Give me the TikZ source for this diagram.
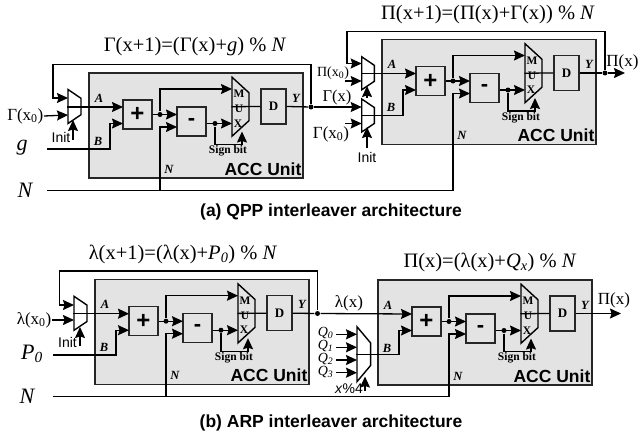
\documentclass[tikz,border=0pt]{standalone}
\usepackage{fontspec}
\setmainfont{Liberation Serif}
\setsansfont{Liberation Sans}
\usetikzlibrary{arrows.meta,shapes.geometric}
\newcommand{\fsz}[1]{\fontsize{#1}{#1}\selectfont}
\newcommand{\accunit}[3]{%
	\begin{scope}[shift={(#2,#3)}]
		\node[unitbox] (#1) at (196,125.5) {};
		\node[calcbox] (#1add) at (137.5,114.5) {\sffamily\bfseries\fsz{24}+};
		\node[calcbox] (#1sub) at (191.5,121.5) {\sffamily\bfseries\fsz{22}-};
		\node[muxbox,fill=gray!22,minimum width=59pt,minimum height=17pt,trapezium angle=60.8] (#1mux) at (240.5,106.7) {};
		\node[regbox] (#1reg) at (273.5,106.5) {\bfseries\fsz{13}D};
		\node[tiny] (#1m) at (239,94) {M};
		\node[tiny] (#1u) at (239,109) {U};
		\node[tiny] (#1x) at (238,123.5) {X};
		\node[dot] (#1tap) at (160,114.5) {};
		\node[dot] (#1sgn) at (215,123.5) {};
		\coordinate (#1ina) at (123,107);
		\coordinate (#1inb) at (123,123.5);
		\coordinate (#1inn) at (177,127);
		\coordinate (#1up) at (160,127);
		\coordinate (#1cola) at (110,123.5);
		\coordinate (#1tapin) at (177,114.5);
		\coordinate (#1muxa) at (232,89);
		\coordinate (#1muxb) at (232,123.5);
		\coordinate (#1muxs) at (242,131.5);
		\coordinate (#1top) at (160,89);
		\coordinate (#1bot) at (215,144.5);
		\node[tag] (#1la) at (99,98) {A};
		\node[tag] (#1lb) at (98,141) {B};
		\node[tag] (#1ln) at (169,169) {N};
		\node[tag] (#1ly) at (296,98) {Y};
		\node[tiny] (#1ls) at (228,151) {Sign bit};
		\node[unitname,anchor=east] (#1ll) at (302,169) {ACC Unit};
		\path (#1add.east) edge (#1tapin);
		\draw (#1tap) |- (#1muxa);
		\path (#1sub.east |- #1muxb) edge (#1muxb);
		\draw (#1sgn) |- (#1bot) -| (#1muxs);
		\path[-] (#1mux.south) edge (#1reg.west);
	\end{scope}}
\begin{document}
\begin{tikzpicture}[x=1pt,y=-1pt,->,>={Stealth[length=11pt,width=10pt,inset=1.5pt]},line width=1.3pt,line join=miter]
	\tikzstyle{unitbox}=[draw=black!85,fill=gray!22,line width=1.5pt,minimum width=214pt,minimum height=105pt,inner sep=0pt]
	\tikzstyle{calcbox}=[draw=black!85,fill=gray!22,line width=1.4pt,minimum width=29pt,minimum height=29pt,inner sep=0pt]
	\tikzstyle{regbox}=[draw=black!85,fill=gray!22,line width=1.4pt,minimum width=25pt,minimum height=35pt,inner sep=0pt]
	\tikzstyle{muxbox}=[draw=black,fill=white,trapezium,trapezium stretches=true,rotate=-90,inner sep=0.3pt,line width=1.4pt]
	\tikzstyle{dot}=[circle,fill=black,inner sep=0pt,minimum size=5pt]
	\tikzstyle{tiny}=[inner sep=0pt,font=\bfseries\fsz{11.5}]
	\tikzstyle{tag}=[inner sep=0pt,font=\bfseries\itshape\fsz{12.5}]
	\tikzstyle{unitname}=[inner sep=0pt,font=\sffamily\bfseries\fsz{17.5}]
	\tikzstyle{formula}=[inner sep=0pt,font=\fsz{20.5}]
	\tikzstyle{pinlabel}=[inner sep=0pt,font=\fsz{17}]
	\tikzstyle{biglabel}=[inner sep=0pt,font=\itshape\fsz{22}]
	\tikzstyle{ctl}=[inner sep=0pt,font=\sffamily\fsz{14}]
	\tikzstyle{caption}=[inner sep=0pt,font=\sffamily\bfseries\fsz{17.5}]
	\useasboundingbox (0,0) rectangle (639,436);

	\accunit{ua}{0}{0}
	\accunit{ub}{293}{-33.5}
	\accunit{uc}{6}{206.7}
	\accunit{ud}{289}{207}

	% (a) left part
	\node[muxbox,minimum width=34pt,minimum height=13pt,trapezium angle=61.7] (m1) at (74.5,106.5) {};
	\node[formula] (f1) at (195,47) {Γ(x+1)=(Γ(x)+\textit{g}) \% \textit{N}};
	\node[pinlabel,anchor=east] (p1) at (44,116) {Γ(x\textsubscript{0})};
	\node[biglabel] (g1) at (22,148) {g};
	\node[biglabel] (n1) at (25,190) {N};
	\node[ctl] (i1) at (61,137.5) {Init};
	\coordinate (m1a) at (68,98);
	\coordinate (m1b) at (68,115);
	\coordinate (m1s) at (73,120);
	\coordinate (i1b) at (73,140);
	\coordinate (g1b) at (47,149);
	\coordinate (n1b) at (47,190.5);
	\coordinate (fb1l) at (53,64.5);
	\node[dot] (o1) at (311,107) {};
	\draw (o1) |- (fb1l) |- (m1a);
	\path (p1.east) edge (m1b);
	\path (i1b) edge (m1s);
	\draw (g1b) -| (uacola) |- (uainb);
	\draw (m1.south |- uaina) -- (uaina);
	\draw (n1b) -| (uaup) -- (uainn);

	% (a) right part
	\node[muxbox,minimum width=33pt,minimum height=12.6pt,trapezium angle=62] (m2) at (368,73.3) {};
	\node[muxbox,minimum width=33pt,minimum height=12.6pt,trapezium angle=62] (m3) at (368,115.5) {};
	\node[formula] (f2) at (488,15) {Π(x+1)=(Π(x)+Γ(x)) \% \textit{N}};
	\node[inner sep=0pt,font=\fsz{14}] (p2) at (333,73) {Π(x\textsubscript{0})};
	\node[inner sep=0pt,font=\fsz{16.5}] (p3) at (337,98) {Γ(x)};
	\node[pinlabel] (p4) at (331,134) {Γ(x\textsubscript{0})};
	\node[pinlabel] (p5) at (622.5,62) {Π(x)};
	\node[ctl] (i2) at (367,157) {Init};
	\coordinate (m2a) at (361.7,63.5);
	\coordinate (m2b) at (361.7,81);
	\coordinate (m3a) at (361.7,107);
	\coordinate (m3b) at (361.7,123.5);
	\coordinate (m2bs) at (345,81);
	\coordinate (m3bs) at (345,123.5);
	\coordinate (m2s) at (367,86);
	\coordinate (m3t) at (367,98);
	\coordinate (m3s) at (367,127);
	\coordinate (i2b) at (367,148);
	\coordinate (fb2l) at (347,31.5);
	\coordinate (out2) at (625,73);
	\node[dot] (o2) at (605,73) {};
	\draw[-] (uareg.east) -- (o1);
	\draw (o1) -- (m3a);
	\draw (o2) |- (fb2l) |- (m2a);
	\path (m2bs) edge (m2b);
	\path (m3bs) edge (m3b);
	\path (m3t) edge (m2s);
	\path (i2b) edge (m3s);
	\draw (m2.south |- ubina) -- (ubina);
	\draw (m3.south) -| (ubcola) |- (ubinb);
	\draw[-] (ubreg.east) -- (o2);
	\draw (o2) -- (out2);
	\draw (n1b) -| (ubup) -- (ubinn);
	\node[caption] (c1) at (331,212) {(a) QPP interleaver architecture};

	% (b) left part
	\node[muxbox,minimum width=34pt,minimum height=13pt,trapezium angle=61.7] (m4) at (80.5,313.3) {};
	\node[formula] (f3) at (183,254) {λ(x+1)=(λ(x)+\textit{P\textsubscript{0}}) \% \textit{N}};
	\node[pinlabel,anchor=east] (p6) at (52,320) {λ(x\textsubscript{0})};
	\node[biglabel] (g2) at (32,354) {P\textsubscript{0}};
	\node[biglabel] (n2) at (27,396) {N};
	\node[ctl] (i3) at (67.5,342) {Init};
	\coordinate (m4a) at (74,305);
	\coordinate (m4b) at (74,320);
	\coordinate (m4s) at (80,327);
	\coordinate (i3b) at (80,346);
	\coordinate (g2b) at (53,355);
	\coordinate (n2b) at (53,396.7);
	\coordinate (fb3l) at (59.5,271);
	\node[dot] (o3) at (317.5,313.5) {};
	\draw (o3) |- (fb3l) |- (m4a);
	\path (p6.east) edge (m4b);
	\path (i3b) edge (m4s);
	\draw (g2b) -| (uccola) |- (ucinb);
	\draw (m4.south |- ucina) -- (ucina);
	\draw (n2b) -| (ucup) -- (ucinn);

	% (b) right part
	\node[muxbox,minimum width=55pt,minimum height=13.7pt,trapezium angle=53.9] (m5) at (363.8,354.2) {};
	\node[formula] (f4) at (490,262) {Π(x)=(λ(x)+\textit{Q\textsubscript{x}}) \% \textit{N}};
	\node[pinlabel] (p7) at (349,303) {λ(x)};
	\node[pinlabel] (p8) at (614,300) {Π(x)};
	\foreach \i/\yy in {0/334.3,1/347.3,2/360,3/372.7}{
		\node[inner sep=0pt,font=\itshape\fsz{14}] (q\i) at (325.5,\yy-1) {Q\textsubscript{\i}};
		\coordinate (q\i b) at (336,\yy);
		\coordinate (m5\i) at (357,\yy);
		\path (q\i b) edge (m5\i);
	}
	\node[ctl] (i4) at (349,388.5) {\textit{x}\%4};
	\coordinate (m5s) at (365,376.5);
	\coordinate (i4b) at (365,391);
	\coordinate (out4) at (621,313.5);
	\path (i4b) edge (m5s);
	\draw (o3) -- (udina);
	\draw[-] (ucreg.east) -- (o3);
	\draw (m5.south) -| (udcola) |- (udinb);
	\draw (udreg.east) -- (out4);
	\draw (n2b) -| (udup) -- (udinn);
	\node[caption] (c2) at (331,423) {(b) ARP interleaver architecture};
\end{tikzpicture}
\end{document}
